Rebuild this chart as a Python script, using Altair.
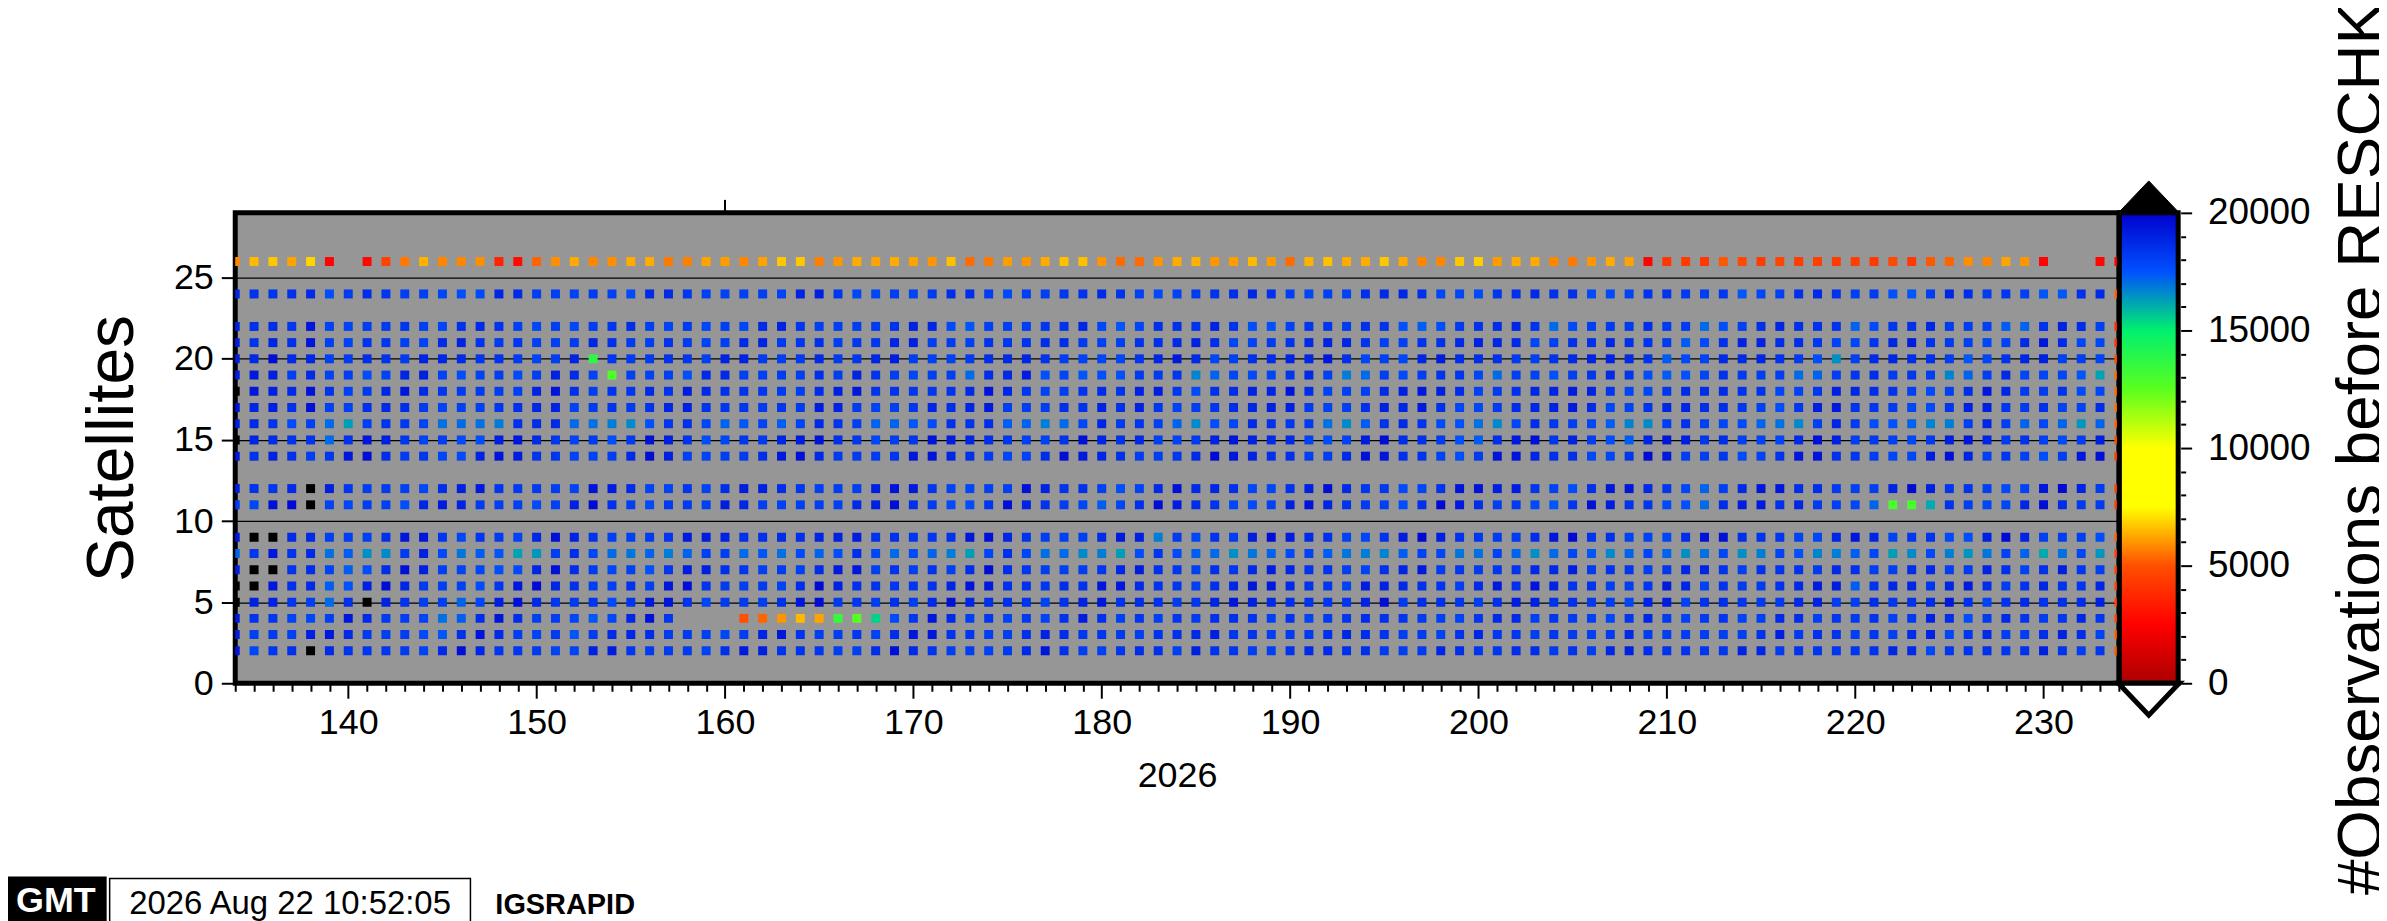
import altair as alt
import pandas as pd

# ---------------- data (values in hundreds of observations; 210 = above 20000) ----------------
days = list(range(134, 235))
cpt_values = [0, 2500, 5000, 7500, 10000, 12500, 15000, 17500, 20000]
cpt_colors = ["#aa0000", "#ff0000", "#ff4f00", "#ffff00", "#ffff00",
              "#5aff1e", "#00f06e", "#0050ff", "#0000cd"]
y_ticks = [0, 5, 10, 15, 20, 25]
top_marker_days = [160]
footer_texts = ["GMT", "2026 Aug 22 10:52:05", "IGSRAPID"]
cbar_title = "#Observations before RESCHK"

N = None
sat26 = [58, 65, 67, 62, 69, 26, N, 27, 46, 56, 64, 58, 58, 59, 36, 28, 53, 59, 63, 58, 59, 63, 63, 56, 57, 62,
         61, 58, 62, 67, 67, 57, 60, 63, 62, 63, 62, 60, 66, 54, 56, 61, 60, 63, 66, 66, 60, 54, 54, 60, 63, 64,
         60, 61, 65, 61, 54, 64, 66, 63, 63, 67, 63, 58, 58, 67, 68, 61, 63, 63, 58, 56, 60, 63, 62, 26, 42, 44,
         43, 51, 48, 44, 47, 44, 45, 44, 45, 43, 48, 43, 51, 53, 59, 58, 62, 60, 26, N, N, 27, 26]
sat24 = [188, 184, 184, 185, 187, 176, 182, 186, 183, 181, 180, 178, 176, 177, 188, 187, 181, 180, 179, 182, 180, 177, 187, 187, 183, 180,
         179, 180, 181, 179, 189, 190, 183, 178, 178, 181, 179, 182, 186, 186, 181, 177, 181, 180, 183, 184, 187, 184, 180, 177, 179, 182,
         184, 186, 188, 185, 180, 178, 180, 179, 185, 187, 188, 185, 178, 178, 177, 183, 185, 187, 185, 185, 177, 177, 179, 184, 184, 182,
         181, 183, 174, 178, 180, 185, 187, 184, 180, 182, 175, 174, 181, 188, 186, 182, 183, 180, 174, 174, 185, 187, 53]
sat22 = [189, 185, 186, 183, 193, 179, 179, 181, 182, 183, 180, 178, 185, 187, 184, 180, 178, 181, 178, 181, 183, 186, 180, 179, 182, 178,
         180, 178, 187, 189, 183, 180, 180, 181, 182, 184, 189, 188, 177, 174, 180, 180, 181, 183, 184, 188, 178, 174, 178, 185, 185, 184,
         189, 184, 176, 175, 179, 183, 183, 182, 185, 184, 175, 173, 176, 182, 184, 186, 188, 184, 171, 177, 180, 182, 182, 186, 182, 182,
         171, 176, 180, 185, 188, 185, 184, 184, 172, 177, 183, 185, 188, 182, 181, 180, 173, 172, 184, 189, 186, 180, 40]
sat21 = [190, 184, 188, 185, 194, 180, 179, 184, 183, 180, 179, 187, 189, 184, 182, 183, 180, 181, 182, 188, 185, 182, 181, 184, 182, 179,
         181, 187, 189, 182, 183, 185, 181, 183, 183, 188, 190, 181, 182, 180, 184, 183, 184, 186, 186, 182, 180, 180, 184, 185, 187, 189,
         186, 178, 179, 182, 184, 187, 189, 188, 184, 180, 180, 184, 185, 187, 189, 188, 187, 178, 180, 185, 185, 188, 185, 184, 182, 173,
         177, 185, 189, 189, 186, 186, 183, 179, 178, 183, 188, 191, 184, 182, 180, 178, 179, 187, 193, 187, 178, 178, 42]
sat20 = [190, 187, 196, 187, 188, 180, 182, 186, 184, 182, 189, 188, 187, 183, 184, 182, 179, 181, 189, 137, 183, 182, 182, 184, 183, 180,
         189, 189, 182, 181, 182, 187, 182, 183, 188, 191, 181, 180, 180, 182, 186, 187, 188, 184, 181, 179, 178, 178, 183, 188, 192, 187,
         178, 180, 185, 187, 189, 188, 193, 185, 178, 180, 178, 188, 191, 186, 186, 185, 182, 180, 184, 187, 189, 189, 187, 184, 173, 177,
         179, 187, 187, 188, 184, 182, 176, 165, 180, 187, 188, 186, 185, 181, 174, 178, 184, 188, 190, 180, 181, 179, 50]
sat19 = [190, 192, 190, 180, 187, 179, 181, 176, 179, 188, 190, 179, 176, 179, 181, 177, 181, 189, 187, 179, 128, 180, 179, 180, 175, 187,
         187, 180, 180, 181, 181, 185, 181, 189, 184, 181, 178, 180, 181, 171, 186, 187, 191, 175, 178, 174, 175, 175, 182, 182, 183, 167,
         172, 178, 177, 178, 183, 187, 180, 168, 171, 181, 177, 181, 184, 183, 178, 171, 180, 179, 175, 181, 183, 187, 183, 176, 173, 175,
         178, 184, 182, 181, 181, 171, 172, 181, 183, 186, 182, 183, 181, 167, 172, 181, 187, 178, 178, 178, 174, 162, 54]
sat18 = [210, 193, 190, 187, 194, 184, 180, 182, 188, 193, 187, 183, 182, 182, 181, 180, 189, 194, 185, 181, 184, 183, 187, 184, 191, 187,
         185, 184, 183, 182, 181, 186, 190, 193, 184, 184, 183, 183, 184, 187, 194, 188, 183, 179, 181, 184, 186, 184, 189, 191, 183, 177,
         185, 186, 189, 189, 194, 186, 179, 180, 181, 187, 190, 192, 190, 186, 179, 182, 185, 188, 189, 191, 189, 183, 178, 178, 183, 187,
         186, 187, 184, 184, 178, 179, 183, 190, 188, 186, 184, 180, 177, 180, 186, 193, 188, 182, 182, 184, 177, 178, 54]
sat17 = [194, 188, 190, 185, 195, 180, 180, 185, 187, 186, 182, 179, 180, 180, 183, 185, 188, 189, 179, 182, 184, 182, 184, 188, 190, 184,
         183, 183, 182, 183, 182, 191, 189, 182, 179, 180, 183, 188, 186, 188, 192, 181, 181, 181, 185, 184, 189, 185, 189, 183, 179, 181,
         183, 186, 188, 190, 190, 182, 179, 180, 185, 190, 188, 192, 185, 178, 178, 182, 186, 188, 189, 192, 187, 178, 179, 184, 188, 188,
         186, 186, 183, 180, 176, 183, 190, 192, 184, 183, 182, 178, 177, 183, 190, 190, 183, 182, 185, 179, 179, 186, 55]
sat16 = [190, 187, 184, 177, 180, 171, 163, 180, 184, 183, 179, 170, 171, 170, 168, 185, 186, 187, 171, 170, 168, 166, 175, 183, 185, 178,
         172, 174, 179, 173, 179, 187, 184, 181, 172, 172, 174, 177, 185, 184, 186, 173, 172, 168, 171, 178, 188, 182, 183, 180, 172, 166,
         176, 178, 187, 185, 183, 182, 170, 166, 173, 184, 187, 184, 177, 175, 170, 166, 178, 186, 183, 181, 178, 173, 167, 166, 181, 185,
         180, 178, 177, 172, 170, 166, 180, 188, 182, 176, 175, 172, 167, 168, 181, 188, 181, 172, 178, 172, 164, 172, 53]
sat15 = [210, 188, 186, 184, 184, 171, 184, 193, 190, 183, 179, 181, 177, 176, 190, 193, 187, 183, 179, 182, 176, 182, 194, 190, 184, 176,
         178, 183, 182, 188, 191, 194, 185, 183, 178, 181, 183, 194, 191, 188, 185, 183, 180, 179, 184, 195, 188, 184, 187, 180, 179, 182,
         189, 193, 189, 187, 187, 179, 176, 179, 191, 196, 186, 185, 182, 175, 173, 185, 192, 195, 183, 189, 181, 176, 173, 188, 193, 190,
         183, 186, 180, 179, 178, 187, 195, 190, 181, 182, 180, 178, 182, 190, 193, 188, 182, 184, 180, 177, 181, 190, 50]
sat14 = [193, 184, 189, 185, 181, 183, 193, 196, 186, 182, 183, 178, 177, 189, 194, 191, 184, 183, 179, 179, 181, 187, 196, 190, 180, 179,
         181, 182, 186, 192, 195, 187, 182, 182, 182, 183, 193, 194, 188, 185, 182, 178, 179, 186, 196, 192, 188, 185, 181, 181, 183, 187,
         197, 193, 189, 185, 185, 180, 181, 187, 195, 193, 185, 184, 179, 176, 182, 194, 194, 188, 185, 185, 178, 178, 183, 197, 192, 181,
         181, 183, 177, 179, 184, 193, 194, 185, 183, 181, 178, 178, 191, 195, 189, 180, 183, 180, 176, 181, 193, 195, 45]
sat12 = [190, 184, 183, 187, 210, 190, 183, 181, 182, 180, 178, 186, 190, 192, 183, 182, 182, 181, 179, 194, 191, 187, 179, 179, 183, 179,
         186, 191, 190, 186, 183, 180, 181, 181, 190, 194, 192, 183, 179, 178, 180, 180, 195, 189, 184, 185, 180, 176, 179, 187, 195, 187,
         188, 185, 178, 178, 184, 190, 196, 187, 183, 183, 177, 178, 184, 194, 194, 190, 191, 183, 179, 176, 185, 193, 193, 187, 183, 178,
         172, 180, 187, 193, 193, 186, 186, 182, 180, 180, 189, 197, 190, 183, 184, 180, 177, 179, 193, 197, 189, 182, 46]
sat11 = [181, 178, 195, 197, 210, 179, 178, 181, 180, 176, 188, 192, 189, 182, 181, 180, 177, 180, 190, 197, 185, 181, 177, 182, 182, 180,
         191, 188, 181, 179, 180, 181, 180, 187, 190, 196, 185, 182, 177, 176, 183, 195, 189, 184, 181, 178, 173, 178, 185, 196, 191, 186,
         184, 178, 177, 179, 190, 194, 188, 184, 182, 180, 176, 185, 197, 192, 186, 181, 182, 177, 174, 183, 195, 191, 184, 183, 177, 175,
         171, 186, 191, 192, 185, 188, 182, 180, 178, 172, 130, 130, 161, 184, 181, 178, 178, 188, 196, 186, 182, 182, 45]
sat9 = [193, 210, 210, 187, 187, 180, 181, 180, 185, 193, 193, 183, 178, 183, 182, 179, 188, 195, 189, 184, 180, 180, 182, 183, 192, 191,
        189, 185, 185, 186, 185, 188, 190, 191, 184, 185, 183, 183, 184, 193, 195, 188, 184, 181, 180, 180, 186, 192, 190, 168, 182, 178,
        184, 181, 191, 196, 191, 187, 185, 179, 178, 184, 191, 197, 190, 184, 183, 182, 182, 186, 193, 197, 184, 185, 179, 179, 178, 186,
        194, 195, 185, 184, 183, 179, 178, 188, 193, 188, 179, 183, 184, 177, 176, 190, 197, 189, 180, 181, 181, 176, 53]
sat8 = [172, 183, 193, 184, 187, 170, 173, 165, 166, 182, 189, 177, 169, 173, 174, 162, 164, 181, 186, 178, 171, 169, 172, 168, 172, 180,
        181, 171, 174, 170, 177, 172, 176, 186, 178, 171, 177, 172, 168, 163, 178, 185, 178, 170, 171, 166, 168, 163, 176, 183, 177, 173,
        171, 165, 169, 172, 177, 179, 173, 169, 168, 167, 173, 179, 178, 169, 170, 179, 172, 165, 171, 178, 174, 166, 172, 178, 172, 165,
        170, 178, 165, 168, 179, 175, 167, 168, 173, 178, 163, 166, 177, 168, 164, 169, 179, 172, 161, 170, 178, 164, 47]
sat7 = [190, 210, 210, 184, 186, 179, 173, 176, 186, 195, 190, 180, 179, 178, 176, 177, 188, 195, 186, 182, 178, 180, 175, 183, 191, 190,
        185, 183, 180, 182, 180, 186, 192, 193, 180, 184, 181, 184, 181, 186, 196, 186, 183, 181, 180, 181, 183, 188, 191, 185, 183, 180,
        185, 183, 187, 191, 188, 184, 184, 181, 179, 185, 188, 192, 182, 183, 182, 183, 184, 187, 187, 190, 182, 184, 183, 181, 183, 188,
        188, 184, 181, 185, 184, 184, 182, 187, 185, 181, 181, 186, 187, 181, 182, 189, 185, 179, 185, 190, 183, 181, 47]
sat6 = [210, 210, 193, 185, 187, 173, 175, 190, 196, 188, 182, 180, 180, 176, 183, 193, 197, 188, 185, 181, 180, 184, 180, 193, 196, 184,
        182, 181, 182, 179, 186, 197, 190, 185, 184, 183, 183, 184, 188, 194, 192, 185, 185, 183, 186, 184, 193, 193, 187, 184, 183, 181,
        185, 188, 193, 192, 187, 184, 183, 179, 191, 189, 187, 185, 183, 181, 187, 192, 185, 194, 189, 184, 184, 181, 181, 183, 192, 188,
        179, 184, 182, 182, 184, 187, 191, 191, 173, 184, 188, 188, 183, 188, 192, 186, 181, 184, 188, 184, 183, 188, 47]
sat5 = [210, 189, 189, 183, 180, 171, 185, 210, 189, 184, 181, 180, 172, 178, 190, 195, 187, 183, 182, 183, 177, 183, 192, 193, 184, 178,
        182, 182, 181, 185, 193, 196, 182, 183, 181, 185, 181, 187, 195, 188, 185, 185, 184, 179, 184, 189, 193, 184, 186, 184, 182, 183,
        188, 193, 190, 187, 185, 184, 183, 183, 189, 196, 182, 186, 185, 183, 181, 185, 191, 190, 184, 185, 182, 181, 178, 189, 191, 179,
        184, 186, 183, 182, 182, 187, 189, 181, 181, 186, 183, 184, 186, 192, 185, 179, 184, 187, 184, 185, 186, 189, 46]
sat4 = [192, 184, 183, 179, 178, 180, 193, 187, 182, 181, 179, 170, 173, 186, 194, 186, 180, 181, 178, 174, 178, 188, 195, 183, N, N,
        N, 50, 53, 60, 65, 62, 135, 126, 155, 177, 183, 193, 187, 180, 183, 179, 182, 179, 184, 191, 185, 180, 183, 180, 183, 182,
        185, 185, 184, 180, 184, 179, 182, 183, 186, 184, 183, 182, 180, 179, 183, 187, 187, 180, 183, 182, 180, 178, 183, 188, 182, 179,
        182, 183, 179, 180, 187, 186, 180, 183, 182, 184, 180, 182, 189, 186, 176, 182, 187, 183, 181, 183, 188, 183, 48]
sat3 = [190, 180, 182, 180, 190, 193, 187, 182, 181, 181, 177, 174, 185, 194, 187, 181, 179, 182, 174, 182, 187, 188, 186, 182, 182, 180,
        178, 181, 189, 193, 184, 181, 181, 183, 179, 186, 193, 193, 184, 183, 181, 181, 185, 189, 186, 183, 183, 182, 181, 184, 185, 187,
        190, 183, 184, 181, 182, 182, 185, 188, 186, 184, 181, 182, 179, 184, 188, 183, 183, 181, 183, 182, 180, 182, 187, 181, 181, 181,
        181, 181, 180, 184, 190, 182, 185, 184, 181, 183, 180, 186, 189, 178, 183, 187, 181, 181, 186, 189, 186, 179, 52]
sat2 = [193, 178, 183, 185, 210, 187, 184, 183, 183, 182, 179, 187, 195, 188, 183, 183, 182, 179, 179, 190, 191, 183, 182, 182, 182, 179,
        185, 192, 190, 184, 184, 183, 181, 180, 186, 195, 187, 184, 181, 181, 180, 182, 187, 193, 185, 181, 180, 183, 186, 185, 180, 190,
        184, 183, 181, 180, 184, 187, 187, 185, 185, 182, 181, 182, 188, 186, 183, 183, 186, 186, 182, 184, 181, 188, 190, 186, 184, 184,
        183, 183, 189, 188, 182, 184, 183, 183, 183, 184, 188, 187, 178, 183, 184, 185, 183, 184, 190, 184, 181, 183, 51]

rows = {26: sat26, 24: sat24, 22: sat22, 21: sat21, 20: sat20, 19: sat19, 18: sat18,
        17: sat17, 16: sat16, 15: sat15, 14: sat14, 12: sat12, 11: sat11, 9: sat9,
        8: sat8, 7: sat7, 6: sat6, 5: sat5, 4: sat4, 3: sat3, 2: sat2}

records = []
for sat, vals in rows.items():
    for d, v in zip(days, vals):
        if v is not None:
            records.append({"day": d, "sat": sat, "obs": v * 100})
df = pd.DataFrame(records)

# ---------------- geometry ----------------
W, H = 1890, 472
FONT = "Liberation Sans"

x_scale = alt.Scale(domain=[days[0], days[-1]], nice=False, zero=False)
x_axis = alt.Axis(orient="bottom", values=days, domain=False, grid=False,
                  tickSize={"condition": {"test": "datum.value % 10 === 0", "value": 15}, "value": 8},
                  tickWidth=2, tickColor="black",
                  labelExpr="datum.value % 10 === 0 ? datum.label : ''",
                  labelOverlap=False, labelFlush=False, labelBound=False,
                  labelAlign="center", labelBaseline="top",
                  labelFontSize=36, labelPadding=7, labelFont=FONT, labelColor="black",
                  titleFontSize=36, titleFont=FONT, titleFontWeight="normal", titleColor="black",
                  titleX=W / 2, titleY=104, titleAlign="center", titleBaseline="alphabetic")

squares = alt.Chart(df).mark_square(size=81, opacity=1, strokeWidth=0, clip=True).encode(
    x=alt.X("day:Q", scale=x_scale, title="2026", axis=x_axis),
    y=alt.Y("sat:Q", scale=alt.Scale(domain=[0, 29], nice=False, zero=True), title="Satellites",
            axis=alt.Axis(orient="left", values=y_ticks, domain=False, grid=True,
                          gridColor="black", gridWidth=1.2, gridOpacity=1,
                          tickSize=14, tickWidth=2, tickColor="black",
                          labelFontSize=36, labelPadding=8, labelFont=FONT, labelColor="black",
                          titleFontSize=66, titleFont=FONT, titleFontWeight="normal", titleColor="black",
                          titleAngle=270, titleX=-103, titleY=H / 2, titleAlign="center",
                          titleBaseline="alphabetic")),
    color=alt.condition("datum.obs > 20000", alt.value("black"),
                        alt.Color("obs:Q", scale=alt.Scale(domain=cpt_values, range=cpt_colors,
                                                           interpolate="rgb", clamp=True),
                                  legend=None)),
)

# colorbar
cbar_df = pd.DataFrame({"lo": [cpt_values[0]], "hi": [cpt_values[-1]]})
gradient = alt.Gradient(
    gradient="linear",
    stops=[alt.GradientStop(color=c, offset=v / cpt_values[-1]) for v, c in zip(cpt_values, cpt_colors)],
    x1=0, x2=0, y1=1, y2=0,
)
cbar = alt.Chart(cbar_df).mark_rect(fill=gradient, stroke="black", strokeWidth=5).encode(
    x=alt.value(W + 0.5), x2=alt.value(W + 59.5),
    y=alt.Y("lo:Q", scale=alt.Scale(domain=[cpt_values[0], cpt_values[-1]], nice=False), title=cbar_title,
            axis=alt.Axis(orient="right", offset=62, values=list(range(0, 20001, 1000)),
                          domain=False, grid=False, format="d",
                          tickSize={"condition": {"test": "datum.value % 5000 === 0", "value": 11}, "value": 5},
                          tickWidth=2, tickColor="black",
                          labelExpr="datum.value % 5000 === 0 ? datum.label : ''",
                          labelOverlap=False, labelBound=False, labelFlush=False,
                          labelFontSize=37, labelPadding=16, labelFont=FONT, labelColor="black",
                          labelAlign="left", labelBaseline="middle",
                          titleFontSize=64, titleFont=FONT, titleFontWeight="normal", titleColor="black",
                          titleAngle=270, titleX=150, titleY=H / 2, titleAlign="center",
                          titleBaseline="top")),
    y2="hi:Q",
)

tri_df = pd.DataFrame({"k": [1]})
top_tri = alt.Chart(tri_df).mark_point(shape="M-1,0L1,0L0,-1.05Z", size=3721, filled=True,
                                       fill="black", stroke="black", strokeWidth=1, opacity=1).encode(
    x=alt.value(W + 30), y=alt.value(0))
bot_tri = alt.Chart(tri_df).mark_point(shape="M-1,0L0,1.05L1,0Z", size=3721, filled=True,
                                       fill="white", stroke="black", strokeWidth=5, opacity=1).encode(
    x=alt.value(W + 30), y=alt.value(H))

top_tick = alt.Chart(pd.DataFrame({"day": top_marker_days})).mark_rule(color="black", strokeWidth=2).encode(
    x=alt.X("day:Q", scale=x_scale, title="2026", axis=x_axis), y=alt.value(0), y2=alt.value(-13))

# footer
foot_df = pd.DataFrame({"t": footer_texts})
logo_box = alt.Chart(foot_df.iloc[[0]]).mark_rect(color="black").encode(
    x=alt.value(-240), x2=alt.value(-129), y=alt.value(666), y2=alt.value(715))
logo_txt = alt.Chart(foot_df.iloc[[0]]).mark_text(color="white", font=FONT, fontSize=36, fontWeight="bold",
                                                  align="center", baseline="alphabetic").encode(
    x=alt.value(-180), y=alt.value(702), text="t:N")
stamp_box = alt.Chart(foot_df.iloc[[1]]).mark_rect(fill="white", stroke="black", strokeWidth=1.5).encode(
    x=alt.value(-126), x2=alt.value(236), y=alt.value(668), y2=alt.value(716))
stamp_txt = alt.Chart(foot_df.iloc[[1]]).mark_text(color="black", font=FONT, fontSize=33,
                                                   align="center", baseline="alphabetic").encode(
    x=alt.value(55), y=alt.value(704), text="t:N")
org_txt = alt.Chart(foot_df.iloc[[2]]).mark_text(color="black", font=FONT, fontSize=29,
                                                 fontWeight="bold", align="left", baseline="alphabetic").encode(
    x=alt.value(261), y=alt.value(704), text="t:N")

chart = alt.layer(
    squares, cbar, top_tri, bot_tri, top_tick, logo_box, logo_txt, stamp_box, stamp_txt, org_txt
).resolve_scale(y="independent").properties(
    width=W, height=H,
    padding={"left": 228, "top": 204, "right": 261, "bottom": 237},
    autosize=alt.AutoSizeParams(type="none"),
).configure_view(fill="#969696", stroke="black", strokeWidth=5)

chart.save("out.html", embed_options={"renderer": "svg", "actions": False})
